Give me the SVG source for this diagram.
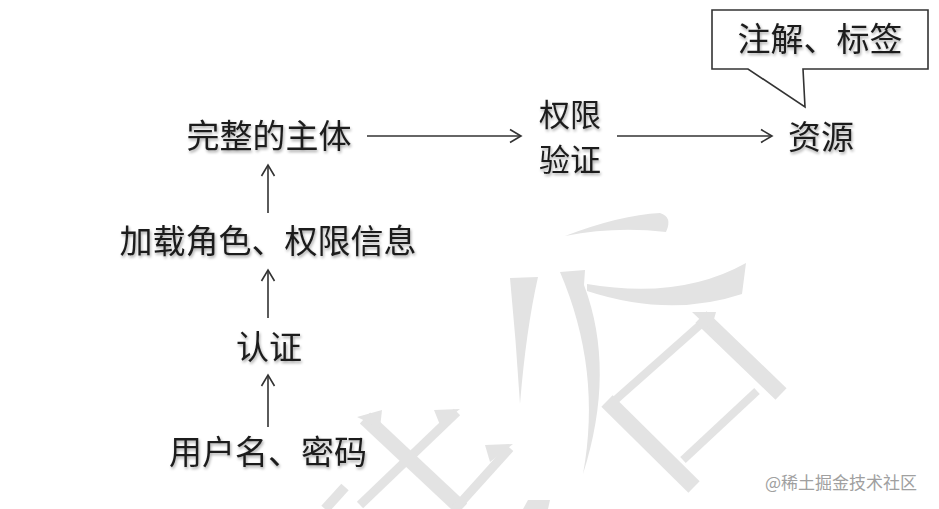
<svg xmlns="http://www.w3.org/2000/svg" width="939" height="509" viewBox="0 0 939 509">
<style>
.t{font-family:"Noto Sans CJK SC","Liberation Sans",sans-serif;font-size:33px;fill:#1e1e1e;text-anchor:middle;filter:url(#sh)}
.t2{font-size:31px}
.c{stroke:#333;stroke-width:1.6;fill:none}
.wm{fill:#e3e3e3}
.wms{stroke:#e3e3e3;fill:none;stroke-linecap:butt}
</style>
<defs>
<filter id="sh" x="-10%" y="-20%" width="120%" height="150%">
<feGaussianBlur in="SourceAlpha" stdDeviation="1.6"/>
<feOffset dx="1" dy="2" result="b"/>
<feComponentTransfer><feFuncA type="linear" slope="0.35"/></feComponentTransfer>
<feMerge><feMergeNode/><feMergeNode in="SourceGraphic"/></feMerge>
</filter>
<marker id="ah" markerUnits="userSpaceOnUse" markerWidth="16" markerHeight="16" viewBox="-13 -8 15 16" refX="0" refY="0" orient="auto">
<path d="M-11,-6.5 L0,0 L-11,6.5" fill="none" stroke="#333" stroke-width="1.6"/>
</marker>
</defs>
<rect width="939" height="509" fill="#fff"/>
<g id="watermark">
<path class="wm" d="M565,236 Q620,215 660,213 Q673,217 666,232 Q615,226 565,236 Z"/>
<path class="wm" d="M510,278 L538,277 Q526,330 520,404 Q516,340 510,278 Z"/>
<path class="wm" d="M560,272 L585,270 L584,285 Q616,370 583,474 Q602,370 560,272 Z"/>
<path class="wm" d="M587,284 Q680,300 746,263 L742,294 Q670,318 587,291 Z"/>
<line class="wms" x1="700" y1="325" x2="612" y2="403" stroke-width="8"/>
<line class="wms" x1="701" y1="317" x2="781" y2="394" stroke-width="16"/>
<line class="wms" x1="607" y1="401" x2="694" y2="487" stroke-width="16"/>
<line class="wms" x1="757" y1="391" x2="683" y2="460" stroke-width="8"/>
<path class="wm" d="M692,312 L716,312 L711,330 Z"/>
<line class="wms" x1="365" y1="418" x2="462" y2="509" stroke-width="15"/>
<path class="wm" d="M357,417 L382,410 L380,428 Z"/>
<line class="wms" x1="457" y1="412" x2="360" y2="505" stroke-width="9"/>
<path class="wm" d="M434,410 L460,409 L440,425 Z"/>
<line class="wms" x1="510" y1="448" x2="455" y2="509" stroke-width="9"/>
<path class="wm" d="M485,445 L513,444 L490,462 Z"/>
<line class="wms" x1="345" y1="487" x2="325" y2="509" stroke-width="10"/>
<path class="wm" d="M523,509 L528,500 L550,500 L548,509 Z"/>
</g>
<g id="connectors">
<line class="c" x1="367" y1="136" x2="521" y2="136" marker-end="url(#ah)"/>
<line class="c" x1="617" y1="136" x2="772" y2="136" marker-end="url(#ah)"/>
<line class="c" x1="268" y1="213" x2="268" y2="165" marker-end="url(#ah)"/>
<line class="c" x1="268" y1="318" x2="268" y2="270" marker-end="url(#ah)"/>
<line class="c" x1="268" y1="427" x2="268" y2="375" marker-end="url(#ah)"/>
</g>
<g id="callout">
<path d="M712,10 L928,10 L928,69 L803,69 L805,107 L748,69 L712,69 Z" fill="#fff" stroke="#333" stroke-width="1.6"/>
<text class="t" x="820" y="51">注解、标签</text>
</g>
<g id="node-subject"><text class="t" x="269" y="148">完整的主体</text></g>
<g id="node-authz"><text class="t t2" x="570" y="126">权限</text><text class="t t2" x="570" y="171">验证</text></g>
<g id="node-resource"><text class="t" x="821" y="149">资源</text></g>
<g id="node-load"><text class="t" x="268" y="253">加载角色、权限信息</text></g>
<g id="node-authn"><text class="t" x="269" y="359">认证</text></g>
<g id="node-cred"><text class="t" x="268" y="464">用户名、密码</text></g>
<g id="credit"><text x="841" y="489" font-family="Noto Sans CJK SC,Liberation Sans,sans-serif" font-size="17" fill="#a0a0a0" text-anchor="middle">@稀土掘金技术社区</text></g>
</svg>
